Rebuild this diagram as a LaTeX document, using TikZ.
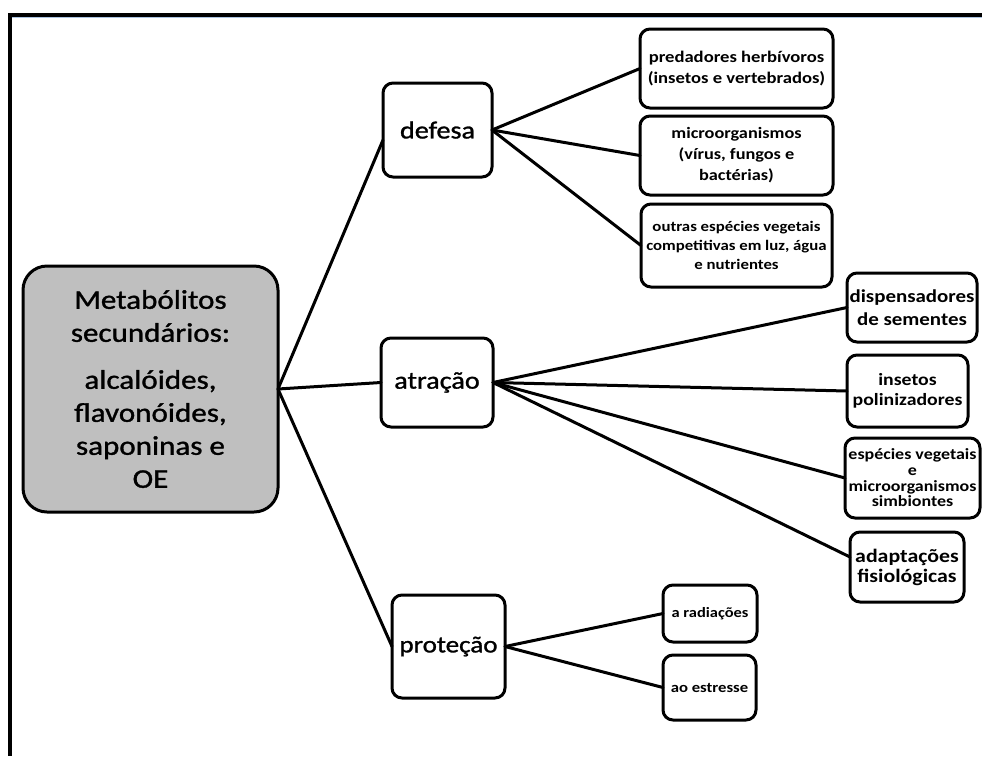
\documentclass[tikz,border=0pt]{standalone}
\usepackage{fontspec}
\setmainfont{Carlito}[FakeStretch=1.15]
\newfontfamily\medfont{Carlito}[FakeStretch=1.15, FakeBold=1.2]
\newcommand\setfs[2]{\fontsize{#1pt}{#2pt}\selectfont}
\definecolor{hubgray}{RGB}{191,191,191}
\definecolor{rulebl}{RGB}{170,195,225}
\begin{document}
\begin{tikzpicture}[x=1pt,y=-1pt,
  box/.style={draw, line width=3pt, rounded corners=10pt, fill=white,
    align=center, inner sep=0pt, outer sep=0pt},
  link/.style={line width=3pt, line cap=round},
  ]
\useasboundingbox (0,0) rectangle (982,756);
% page border (top and left)
\fill (8.3,13.3) rectangle (982,17.3);
\fill (8.3,13.3) rectangle (12.3,756);
\draw[line width=0.8pt, rulebl] (12.3,17.8) -- (982,17.8);

% central node
\node[box, fill=hubgray, rounded corners=24pt, minimum width=255pt, minimum height=246pt,
  font=\medfont\setfs{27}{33}] (meta) at (150.5,389)
  {Metabólitos\\secundários:\\[14pt]alcalóides,\\flavonóides,\\saponinas e\\OE};

% functions
\node[box, minimum width=109pt, minimum height=94pt, font=\medfont\setfs{24.5}{28}] (defesa) at (437.5,130) {defesa};
\node[box, minimum width=112pt, minimum height=89pt, font=\medfont\setfs{24.5}{28}] (atracao) at (437,382.5) {atração};
\node[box, minimum width=113pt, minimum height=103pt, font=\medfont\setfs{23.5}{28}] (protecao) at (448.5,646.5) {proteção};

% defence targets
\node[box, minimum width=193pt, minimum height=79pt, font=\setfs{16.2}{21}\bfseries] (pred) at (736.5,68.5)
  {predadores herbívoros\\(insetos e vertebrados)};
\node[box, minimum width=193pt, minimum height=79pt, font=\setfs{15.9}{21}\bfseries] (micro) at (736.5,155.5)
  {microorganismos\\(vírus, fungos e\\bactérias)};
\node[box, minimum width=191pt, minimum height=83pt, font=\setfs{14.6}{19}\bfseries] (outras) at (736.5,245.5)
  {outras espécies vegetais\\competitivas em luz, água\\e nutrientes};

% attraction targets
\node[box, minimum width=130pt, minimum height=69pt, font=\setfs{18.2}{23}\bfseries] (disp) at (912,307.5)
  {dispensadores\\de sementes};
\node[box, minimum width=121pt, minimum height=72pt, font=\setfs{17.2}{20}\bfseries] (poli) at (907.5,391)
  {insetos\\polinizadores};
\node[box, minimum width=135pt, minimum height=80pt, font=\setfs{15.6}{15.7}\bfseries] (simb) at (912.5,478)
  {espécies vegetais\\e\\microorganismos\\simbiontes};
\node[box, minimum width=114pt, minimum height=70pt, font=\setfs{19}{20}\bfseries] (adapt) at (907,567)
  {adaptações\\fisiológicas};

% protection targets
\node[box, minimum width=94pt, minimum height=57pt, font=\setfs{14.3}{18}\bfseries] (rad) at (710,613.5) {a radiações};
\node[box, minimum width=93pt, minimum height=65pt, font=\setfs{14.5}{18}\bfseries] (estr) at (709.5,687.5) {ao estresse};

% connectors
\draw[link] (meta.east) -- ([yshift=-10pt]defesa.west);
\draw[link] (meta.east) -- (atracao.west);
\draw[link] (meta.east) -- (protecao.west);

\draw[link] (defesa.east) -- (pred.west);
\draw[link] (defesa.east) -- (micro.west);
\draw[link] (defesa.east) -- (outras.west);

\draw[link] (atracao.east) -- (disp.west);
\draw[link] (atracao.east) -- (poli.west);
\draw[link] (atracao.east) -- (simb.west);
\draw[link] (atracao.east) -- ([yshift=10pt]adapt.west);

\draw[link] (protecao.east) -- (rad.west);
\draw[link] (protecao.east) -- (estr.west);
\end{tikzpicture}
\end{document}
